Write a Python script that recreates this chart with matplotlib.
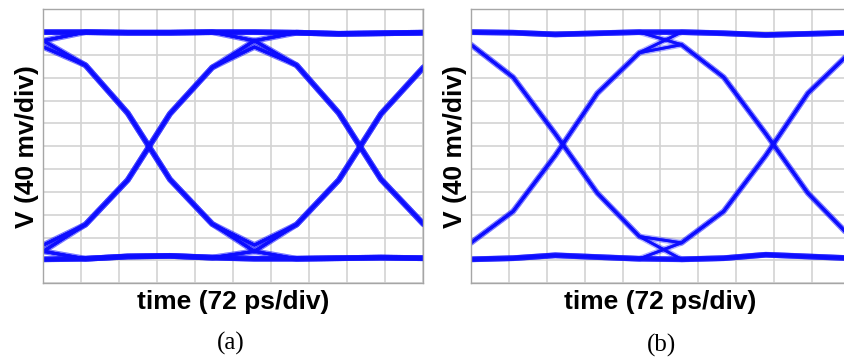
import numpy as np
import matplotlib.pyplot as plt
from itertools import product

# scope settings
PS_PER_DIV = 72
MV_PER_DIV = 40
N_HDIV = 10
N_VDIV = 12
STEP_PS = 80          # record point spacing, 5 points per 400 ps bit

# ---- (a) ----
# edge record points between two sampling instants (mV)
A_RISE = [-137, -59, 57, 138]
A_FALL = [142, 58, -58, -136]
# level at sampling instant: one neighbour differs / both differ
A_HIGH = [185, 174]
A_LOW = [-184, -173]
# steady rails at record points 0..800 ps
A_TOP_RAIL = [200, 200, 199, 199, 200, 200, 199, 197, 198, 199, 200]
A_BOT_RAIL = [-198, -197, -193, -192, -195, -197, -197, -196, -195, -196, -198]

# ---- (b) ----
B_RISE = [-114, -16, 93, 164]
B_FALL = [121, 22, -82, -158]
# level at sampling instant when the next bit differs
B_HIGH = [178]
B_LOW = [-169]
B_TOP_RAIL = [200, 199, 196, 198, 200, 200, 198, 195, 197, 199, 200]
B_BOT_RAIL = [-198, -196, -191, -194, -197, -198, -196, -190, -193, -196, -198]

TRACE = '#0d0dff'
GRID = '#d3d3d3'
FRAME = '#a6a6a6'


def build_traces(rise, fall, high, low, top_rail, bot_rail, both_sides):
    traces = set()
    for bits in product([0, 1], repeat=5):
        v = [None] * 11
        # sampling instants at 0, 400, 800 ps
        for k in range(1, 4):
            prv, cur, nxt = bits[k - 1], bits[k], bits[k + 1]
            j = (k - 1) * 5
            n = (nxt != cur) + ((prv != cur) if both_sides else 0)
            if n == 0:
                v[j] = top_rail[j] if cur else bot_rail[j]
            else:
                v[j] = high[n - 1] if cur else low[n - 1]
        for k in range(1, 3):
            a, b = bits[k], bits[k + 1]
            j0 = (k - 1) * 5
            for i in range(4):
                j = j0 + 1 + i
                if a == b:
                    v[j] = top_rail[j] if a else bot_rail[j]
                else:
                    v[j] = rise[i] if b else fall[i]
        traces.add(tuple(v))
    return sorted(traces)


def draw_eye(ax, traces, top_rail, bot_rail):
    t = np.arange(11) * STEP_PS
    for tr in traces:
        ax.plot(t, tr, color=TRACE, lw=4.2, alpha=0.18, solid_capstyle='round')
        ax.plot(t, tr, color=TRACE, lw=2.0, alpha=0.9, solid_joinstyle='round')
    ax.plot(t, top_rail, color=TRACE, lw=4.0, alpha=0.85)
    ax.plot(t, bot_rail, color=TRACE, lw=4.0, alpha=0.85)

    xmax = N_HDIV * PS_PER_DIV
    ymax = N_VDIV * MV_PER_DIV / 2
    ax.set_xlim(0, xmax)
    ax.set_ylim(-ymax, ymax)
    ax.set_xticks(np.arange(0, xmax + 1, PS_PER_DIV))
    ax.set_yticks(np.arange(-ymax, ymax + 1, MV_PER_DIV))
    ax.tick_params(length=0, labelbottom=False, labelleft=False)
    ax.grid(True, color=GRID, lw=1.2)
    ax.set_axisbelow(True)
    for s in ax.spines.values():
        s.set_color(FRAME)
        s.set_linewidth(1.0)
    lab = dict(fontsize=19, fontweight='bold', family='Liberation Sans')
    ax.set_xlabel(f'time ({PS_PER_DIV} ps/div)', labelpad=5, **lab)
    ax.set_ylabel(f'V ({MV_PER_DIV} mv/div)', labelpad=3, **lab)


fig = plt.figure(figsize=(8.45, 3.62), dpi=100)
ax_a = fig.add_axes([43.3 / 845, 78.7 / 362, 380 / 845, 274 / 362])
ax_b = fig.add_axes([471 / 845, 78.7 / 362, 379 / 845, 274 / 362])

draw_eye(ax_a, build_traces(A_RISE, A_FALL, A_HIGH, A_LOW, A_TOP_RAIL, A_BOT_RAIL, True),
         A_TOP_RAIL, A_BOT_RAIL)
draw_eye(ax_b, build_traces(B_RISE, B_FALL, B_HIGH, B_LOW, B_TOP_RAIL, B_BOT_RAIL, False),
         B_TOP_RAIL, B_BOT_RAIL)

cap = dict(fontsize=18, family='Liberation Serif', ha='center', va='center')
fig.text(231 / 845, 1 - 343 / 362, '(a)', **cap)
fig.text(662 / 845, 1 - 345 / 362, '(b)', **cap)

fig.savefig('out.png', dpi=100)
